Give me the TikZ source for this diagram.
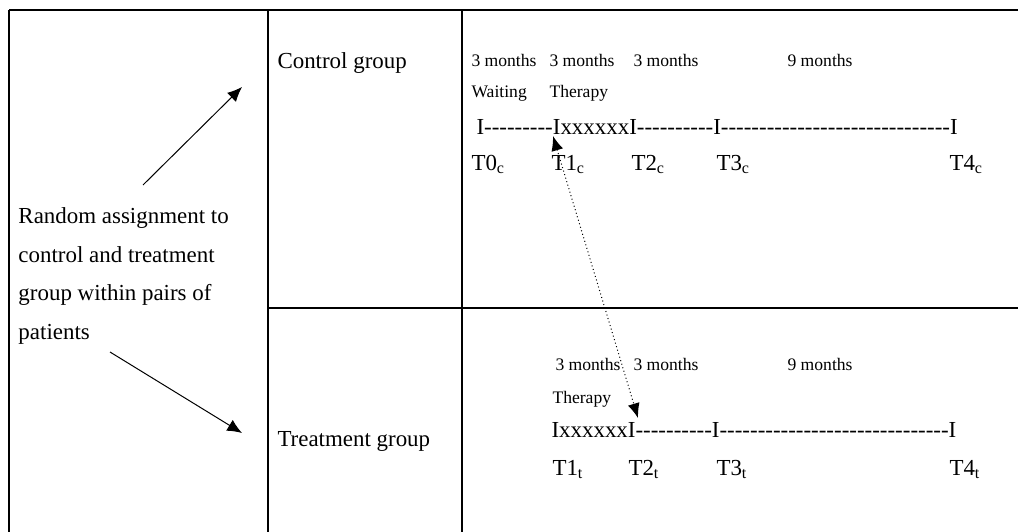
\documentclass[tikz,border=0pt]{standalone}
\usepackage{fontspec}
\setmainfont{Liberation Serif}[Ligatures=TeXOff]
\usetikzlibrary{arrows.meta}

\tikzset{every picture/.style={line width=0.75pt}}
\tikzset{
  txt/.style={anchor=base west,inner sep=0.75pt,font=\fontsize{17.2}{20}\selectfont},
  sml/.style={anchor=base west,inner sep=0.75pt,font=\fontsize{13.2}{16}\selectfont},
  frame/.style={line width=1.5pt},
  assign/.style={-{Latex[length=11pt,width=9.5pt]}},
  link/.style={{Latex[length=11pt,width=9pt]}-{Latex[length=11pt,width=9pt]},dotted}
}

\begin{document}
\begin{tikzpicture}[x=0.75pt,y=0.75pt,yscale=-1,xscale=1]
\useasboundingbox (0,0) rectangle (1018,532);

%Straight Lines [frame]
\draw [frame]   (9,10) -- (1018,10) ;
\draw [frame]   (9,10) -- (9,532) ;
\draw [frame]   (268,10) -- (268,532) ;
\draw [frame]   (462,10) -- (462,532) ;
\draw [frame]   (268,308) -- (1018,308) ;

% Text Node
\draw (17,223) node (rnd1) [txt] {Random assignment to};
% Text Node
\draw (17,262) node (rnd2) [txt] {control and treatment};
% Text Node
\draw (17,300.5) node (rnd3) [txt] {group within pairs of};
% Text Node
\draw (17,339.5) node (rnd4) [txt] {patients};
% Text Node
\draw (276,68) node (ctrl) [txt] {Control group};
% Text Node
\draw (276,446) node (treat) [txt] {Treatment group};

%control group timeline
\draw (470,66) node (cm1) [sml] {3 months};
\draw (548,66) node (cm2) [sml] {3 months};
\draw (632,66) node (cm3) [sml] {3 months};
\draw (786,66) node (cm4) [sml] {9 months};
\draw (470,97) node (cwait) [sml] {Waiting};
\draw (548,97) node (cther) [sml] {Therapy};
\draw (475,134) node (cline) [txt] {I---------IxxxxxxI----------I------------------------------I};
\draw (470,170.5) node (ct0) [txt] {T0\textsubscript{c}};
\draw (550,170.5) node (ct1) [txt] {T1\textsubscript{c}};
\draw (630,170.5) node (ct2) [txt] {T2\textsubscript{c}};
\draw (715,170.5) node (ct3) [txt] {T3\textsubscript{c}};
\draw (948,170.5) node (ct4) [txt] {T4\textsubscript{c}};

%treatment group timeline
\draw (554,370) node (tm1) [sml] {3 months};
\draw (632,370) node (tm2) [sml] {3 months};
\draw (786,370) node (tm3) [sml] {9 months};
\draw (551,403) node (tther) [sml] {Therapy};
\draw (550,437) node (tline) [txt] {IxxxxxxI----------I------------------------------I};
\draw (551,475) node (tt1) [txt] {T1\textsubscript{t}};
\draw (627,475) node (tt2) [txt] {T2\textsubscript{t}};
\draw (715,475) node (tt3) [txt] {T3\textsubscript{t}};
\draw (948,475) node (tt4) [txt] {T4\textsubscript{t}};

%arrows
\coordinate (upstart) at (143,185);
\coordinate (uptip) at (242,87);
\coordinate (downstart) at (110,352);
\coordinate (downtip) at (242,433);
\coordinate (ctI) at (553,136);
\coordinate (ttI) at (638,418);
\draw [assign]   (upstart) -- (uptip) ;
\draw [assign]   (downstart) -- (downtip) ;
\draw [link]   (ctI) -- (ttI) ;

\end{tikzpicture}
\end{document}
